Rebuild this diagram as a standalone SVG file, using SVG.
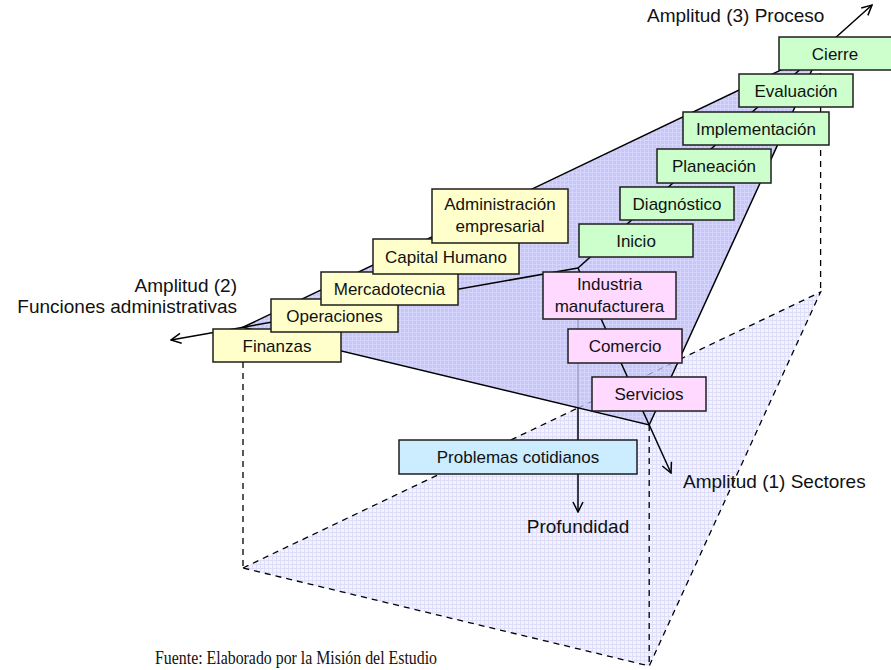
<svg xmlns="http://www.w3.org/2000/svg" width="891" height="670" viewBox="0 0 891 670">
  <style>
    .lbl { font-family: "Liberation Sans", Arial, sans-serif; font-size: 17px; fill: #111; text-anchor: middle; }
    .axl { font-family: "Liberation Sans", Arial, sans-serif; font-size: 19px; fill: #111; }
    .src { font-family: "Liberation Serif", "Times New Roman", serif; font-size: 18px; fill: #111; }
    .box { stroke: #1e1e1e; stroke-width: 1.5; }
    .fn { fill: #FFFFCC; }
    .pr { fill: #CCFFCC; }
    .se { fill: #FFD9FF; }
    .dp { fill: #CCECFF; }
    .axis { stroke: #000; stroke-width: 1.5; fill: none; marker-end: url(#arrow); }
    .edge { stroke: #000; stroke-width: 1.5; fill: none; }
    .dash { stroke: #000; stroke-width: 1.3; stroke-dasharray: 6 5; fill: none; }
    .hidden { stroke: #8c8cb4; stroke-width: 1; fill: none; }
  </style>
  <defs>
    <pattern id="gridUpper" width="4" height="4" patternUnits="userSpaceOnUse">
      <rect width="4" height="4" fill="#C6C6F7"/>
      <path d="M0,0.5H4M0.5,0V4" stroke="#D5D5FB" stroke-width="1"/>
    </pattern>
    <pattern id="gridLower" width="4" height="4" patternUnits="userSpaceOnUse">
      <rect width="4" height="4" fill="#F3F3FF"/>
      <path d="M0,0.5H4M0.5,0V4" stroke="#DEDEFA" stroke-width="1"/>
    </pattern>
    <marker id="arrow" viewBox="0 0 12 12" refX="11" refY="6" markerWidth="12" markerHeight="12" markerUnits="userSpaceOnUse" orient="auto">
      <path d="M1,1 L11,6 L1,11" fill="none" stroke="#000" stroke-width="1.5"/>
    </marker>
  </defs>

  <!-- lower (projected) plane -->
  <g id="lower-plane">
    <polygon points="243,568 820.6,292 649.2,666" fill="url(#gridLower)"/>
    <polygon points="243,568 820.6,292 649.2,666" class="dash"/>
  </g>

  <!-- vertical projection lines and depth axis -->
  <g id="connectors">
    <line x1="243" y1="362" x2="243" y2="568" class="dash"/>
    <line x1="649.2" y1="425" x2="649.2" y2="666" class="dash"/>
    <line x1="820.6" y1="51" x2="820.6" y2="292" class="dash"/>
    <line x1="578" y1="408" x2="578" y2="512" class="axis"/>

    <!-- upper plane -->
    <polygon id="upper-plane" points="243,327.3 820.6,51 649.2,425" fill="url(#gridUpper)"/>
    <line x1="578" y1="319" x2="578" y2="408" class="hidden"/>
    <line x1="578" y1="408" x2="679" y2="360" class="hidden" stroke-dasharray="6 5"/>
    <polygon points="243,327.3 820.6,51 649.2,425" class="edge"/>

    <!-- the three breadth axes from the common origin -->
    <line x1="578" y1="268" x2="171" y2="340" class="axis"/>
    <line x1="578" y1="268" x2="872" y2="5" class="axis"/>
    <line x1="578" y1="268" x2="671" y2="473" class="axis"/>
  </g>

  <!-- administrative functions -->
  <g id="finanzas"><rect class="box fn" x="213" y="329" width="128" height="33"/><text class="lbl" x="277" y="351.5">Finanzas</text></g>
  <g id="operaciones"><rect class="box fn" x="271" y="299" width="127" height="33"/><text class="lbl" x="334.5" y="321.5">Operaciones</text></g>
  <g id="mercadotecnia"><rect class="box fn" x="321" y="272" width="137" height="33"/><text class="lbl" x="389.5" y="294.5">Mercadotecnia</text></g>
  <g id="capital-humano"><rect class="box fn" x="373" y="239" width="146" height="35"/><text class="lbl" x="446" y="262.5">Capital Humano</text></g>
  <g id="administracion"><rect class="box fn" x="432" y="189" width="136" height="54"/><text class="lbl" x="500" y="210">Administración</text><text class="lbl" x="500" y="232">empresarial</text></g>

  <!-- process stages -->
  <g id="inicio"><rect class="box pr" x="579" y="224" width="114" height="33"/><text class="lbl" x="636" y="246.5">Inicio</text></g>
  <g id="diagnostico"><rect class="box pr" x="620" y="187" width="114" height="33"/><text class="lbl" x="677" y="209.5">Diagnóstico</text></g>
  <g id="planeacion"><rect class="box pr" x="657" y="149" width="114" height="34"/><text class="lbl" x="714" y="172">Planeación</text></g>
  <g id="implementacion"><rect class="box pr" x="683" y="112" width="146" height="33"/><text class="lbl" x="756" y="134.5">Implementación</text></g>
  <g id="evaluacion"><rect class="box pr" x="739" y="74" width="114" height="33"/><text class="lbl" x="796" y="96.5">Evaluación</text></g>
  <g id="cierre"><rect class="box pr" x="779" y="37" width="113" height="33"/><text class="lbl" x="835" y="59.5">Cierre</text></g>

  <!-- sectors -->
  <g id="industria"><rect class="box se" x="543" y="272" width="133" height="47"/><text class="lbl" x="609.5" y="290">Industria</text><text class="lbl" x="609.5" y="312">manufacturera</text></g>
  <g id="comercio"><rect class="box se" x="568" y="329" width="114" height="34"/><text class="lbl" x="625" y="352">Comercio</text></g>
  <g id="servicios"><rect class="box se" x="592" y="377" width="114" height="34"/><text class="lbl" x="649" y="400">Servicios</text></g>

  <!-- depth -->
  <g id="problemas"><rect class="box dp" x="399" y="440" width="238" height="34"/><text class="lbl" x="518" y="463">Problemas cotidianos</text></g>

  <!-- axis captions -->
  <g id="axis-labels">
    <text class="axl" x="647" y="22">Amplitud (3) Proceso</text>
    <text class="axl" x="237" y="292" text-anchor="end">Amplitud (2)</text>
    <text class="axl" x="237" y="313" text-anchor="end">Funciones administrativas</text>
    <text class="axl" x="683" y="488">Amplitud (1) Sectores</text>
    <text class="axl" x="578" y="533" text-anchor="middle">Profundidad</text>
  </g>

  <text class="src" x="155" y="664" textLength="282" lengthAdjust="spacingAndGlyphs">Fuente: Elaborado por la Misión del Estudio</text>
</svg>
